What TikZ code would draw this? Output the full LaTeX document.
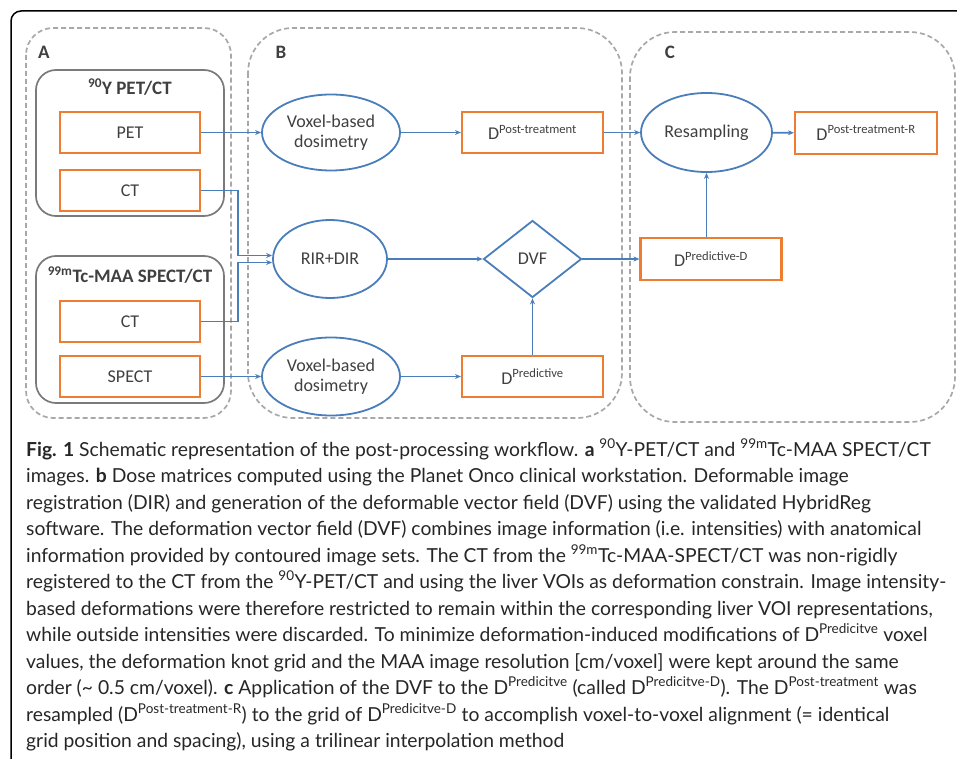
\documentclass[tikz,border=0pt]{standalone}
\usepackage{fontspec}
\setmainfont{Carlito}
\newfontfamily\capfont{Lato}
\usetikzlibrary{shapes.geometric,arrows.meta,calc}
\definecolor{lineblue}{HTML}{4A7EBB}
\definecolor{boxorange}{HTML}{ED7D31}
\definecolor{groupgray}{HTML}{7A7A7A}
\definecolor{dashgray}{HTML}{A8A8A8}
\definecolor{labeltext}{HTML}{404040}
\definecolor{captext}{HTML}{262626}

\begin{document}
\begin{tikzpicture}[x=1pt,y=-1pt,
  lbl/.style={font=\fontsize{18}{20.5}\selectfont, text=labeltext},
  databox/.style={lbl, draw=boxorange, line width=2.2pt, minimum width=140pt,
    minimum height=41pt, inner sep=0pt},
  procell/.style={lbl, ellipse, draw=lineblue, line width=1.8pt, inner sep=0pt,
    align=center},
  decide/.style={lbl, diamond, draw=lineblue, line width=1.8pt, inner sep=0pt},
  conn/.style={draw=lineblue, line width=1.6pt, -{Stealth[length=6pt,width=5pt]}},
  panel/.style={draw=dashgray, line width=1.7pt, dash pattern=on 5pt off 3pt},
  grp/.style={draw=groupgray, line width=1.7pt, rounded corners=20pt},
  grptitle/.style={font=\bfseries\fontsize{19}{22}\selectfont, text=labeltext},
  plabel/.style={font=\bfseries\fontsize{19}{22}\selectfont, text=labeltext},
  capline/.style={anchor=base west, inner sep=0pt, text=captext,
    font=\capfont\fontsize{19.3}{22}\selectfont}]

\useasboundingbox (0,0) rectangle (957,759);

% outer frame of the figure
\draw[black, line width=1.5pt, rounded corners=10pt] (957,11) -- (11,11) -- (11,759);

% dashed stage panels
\draw[panel, rounded corners=27pt] (26,28) rectangle (231,418);
\draw[panel, rounded corners=45pt] (248,28) rectangle (622,418);
\draw[panel, rounded corners=45pt] (630,32) rectangle (955,422);
\node[plabel] (la) at (44,52) {A};
\node[plabel] (lb) at (281,52) {B};
\node[plabel] (lc) at (670,52) {C};

% image groups
\draw[grp] (36,70) rectangle (224,216);
\draw[grp] (36,256) rectangle (224,403);
\node[grptitle] (t1) at (130,87) {\textsuperscript{90}Y PET/CT};
\node[grptitle] (t2) at (130,275) {\textsuperscript{99m}Tc-MAA SPECT/CT};

% input images
\node[databox] (pet) at (130,132.5) {PET};
\node[databox] (ct1) at (130,190.5) {CT};
\node[databox] (ct2) at (130,321.5) {CT};
\node[databox] (spect) at (130,376.5) {SPECT};

% processing steps
\node[procell, minimum width=138pt, minimum height=76pt] (vox1) at (331,132.5) {Voxel-based\\dosimetry};
\node[procell, minimum width=114pt, minimum height=78pt] (rir) at (330,259) {RIR+DIR};
\node[procell, minimum width=138pt, minimum height=78pt] (vox2) at (331,376.5) {Voxel-based\\dosimetry};
\node[decide, minimum width=98pt, minimum height=77pt] (dvf) at (532.5,259) {DVF};
\node[procell, minimum width=131pt, minimum height=79pt] (res) at (706.5,132.5) {Resampling};

% dose matrices
\node[databox, minimum width=141pt] (dpost) at (532.5,132.5) {D\textsuperscript{Post-treatment}};
\node[databox, minimum width=141pt] (dpred) at (532.5,376.5) {D\textsuperscript{Predictive}};
\node[databox, minimum width=142pt, minimum height=42pt] (dpostr) at (866,133) {D\textsuperscript{Post-treatment-R}};
\node[databox, minimum width=141pt, minimum height=42pt] (dpd) at (711,259) {D\textsuperscript{Predictive-D}};

% workflow connectors
\draw[conn] (pet) -- (vox1);
\draw[conn] (vox1) -- (dpost);
\draw[conn] (dpost) -- (res);
\draw[conn] (res) -- (dpostr);
\draw[conn] (ct1.east) -- ++(37,0) |- ([yshift=3.5pt]rir.west);
\draw[conn] (ct2.east) -- ++(37,0) |- ([yshift=-3.5pt]rir.west);
\draw[conn] (rir) -- (dvf);
\draw[conn] (dvf.east) -- (dvf.east -| dpd.west);
\draw[conn] (dpred.north -| dvf.south) -- (dvf.south);
\draw[conn] (dpd.north -| res.south) -- (res.south);
\draw[conn] (spect) -- (vox2);
\draw[conn] (vox2) -- (dpred);

% figure caption
\node[capline] (c1) at (26,456) {\textbf{Fig. 1} Schematic representation of the post-processing workflow. \textbf{a} \textsuperscript{90}Y-PET/CT and \textsuperscript{99m}Tc-MAA SPECT/CT};
\node[capline] (c2) at (26,482.5) {images. \textbf{b} Dose matrices computed using the Planet Onco clinical workstation. Deformable image};
\node[capline] (c3) at (26,509) {registration (DIR) and generation of the deformable vector field (DVF) using the validated HybridReg};
\node[capline] (c4) at (26,535.5) {software. The deformation vector field (DVF) combines image information (i.e. intensities) with anatomical};
\node[capline] (c5) at (26,562) {information provided by contoured image sets. The CT from the \textsuperscript{99m}Tc-MAA-SPECT/CT was non-rigidly};
\node[capline] (c6) at (26,588.5) {registered to the CT from the \textsuperscript{90}Y-PET/CT and using the liver VOIs as deformation constrain. Image intensity-};
\node[capline] (c7) at (26,615) {based deformations were therefore restricted to remain within the corresponding liver VOI representations,};
\node[capline] (c8) at (26,641.5) {while outside intensities were discarded. To minimize deformation-induced modifications of D\textsuperscript{Predicitve} voxel};
\node[capline] (c9) at (26,668) {values, the deformation knot grid and the MAA image resolution [cm/voxel] were kept around the same};
\node[capline] (c10) at (26,694.5) {order (\textasciitilde{} 0.5 cm/voxel). \textbf{c} Application of the DVF to the D\textsuperscript{Predicitve} (called D\textsuperscript{Predicitve-D}). The D\textsuperscript{Post-treatment} was};
\node[capline] (c11) at (26,721) {resampled (D\textsuperscript{Post-treatment-R}) to the grid of D\textsuperscript{Predicitve-D} to accomplish voxel-to-voxel alignment (= identical};
\node[capline] (c12) at (26,747.5) {grid position and spacing), using a trilinear interpolation method};
\end{tikzpicture}
\end{document}
